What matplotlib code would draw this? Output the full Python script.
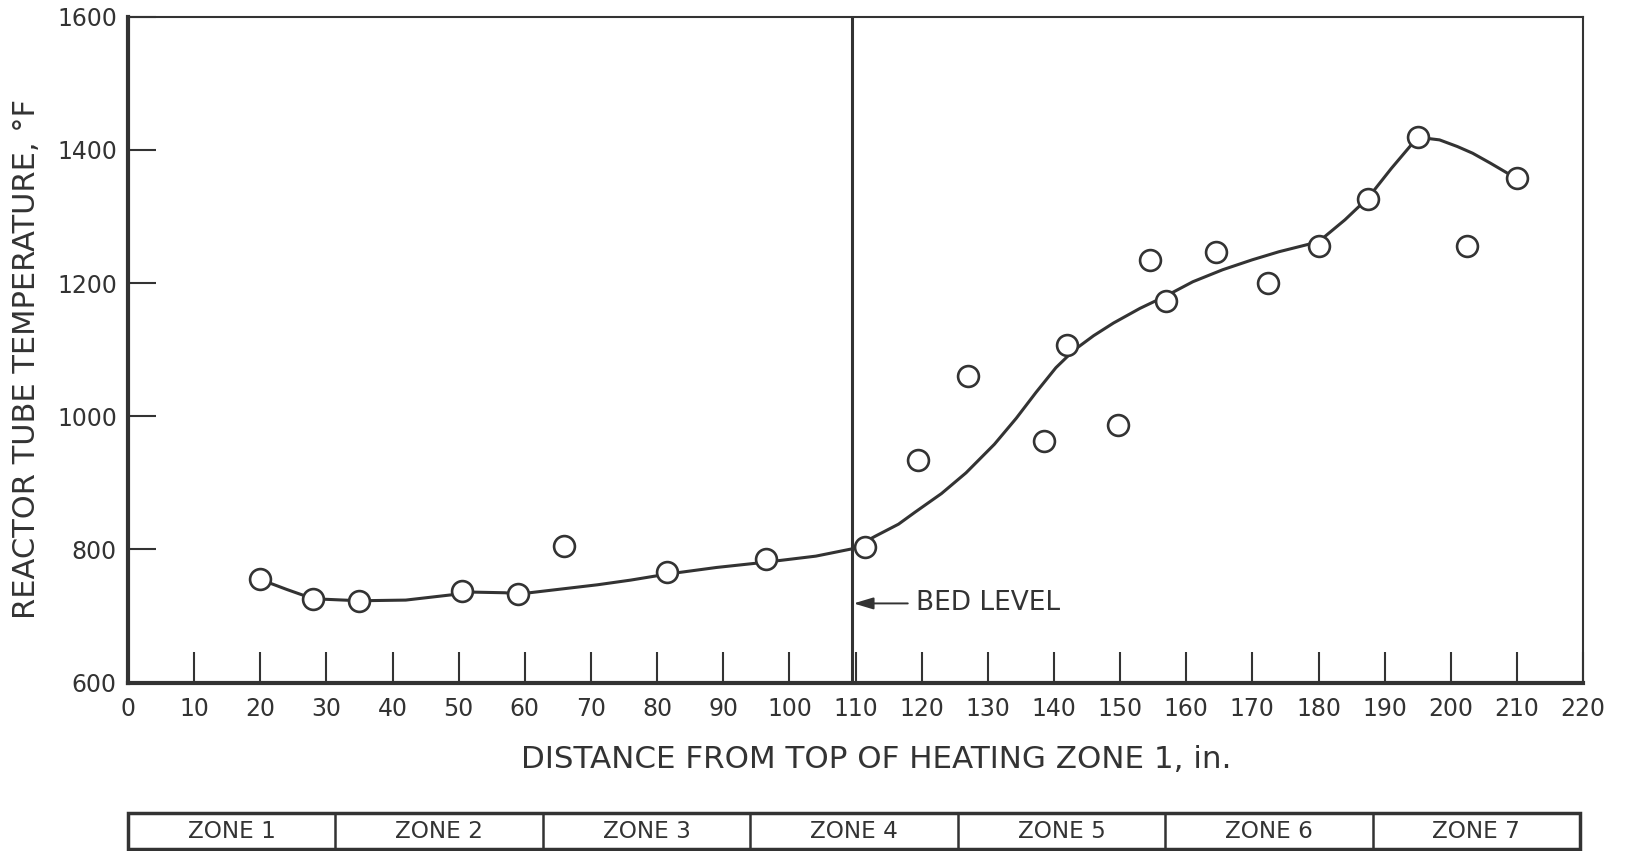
import matplotlib
matplotlib.use("Agg")
import matplotlib.pyplot as plt
from matplotlib.patches import Rectangle

# ---- data ----
dist = [20, 28, 35, 50.5, 59, 66, 81.5, 96.5, 111.5, 119.5, 127, 138.5, 142,
        149.7, 154.5, 157, 164.5, 172.3, 180, 187.5, 195, 202.5, 210]
temp = [755, 725, 723, 738, 733, 805, 766, 785, 804, 935, 1060, 963, 1107,
        987, 1235, 1173, 1247, 1200, 1256, 1326, 1419, 1255, 1358]

curve_x = [20, 24, 28, 35, 42, 49, 52, 57, 59, 65, 71, 76, 81.5, 89, 96.5, 104,
           109.5, 113, 116.5, 119, 123, 126.7, 131, 134.3, 137.3, 140.3, 143,
           146, 149, 153, 157, 161, 165.5, 170, 174, 180, 184, 187.5, 191, 195,
           198.3, 201, 203.3, 206, 208.4, 210]
curve_y = [755, 740, 726, 723, 724, 732, 736, 735, 733, 740, 747, 754, 763, 773,
           781, 790, 801, 820, 838, 856, 884, 915, 958, 997, 1036, 1073, 1099,
           1121, 1140, 1162, 1181, 1202, 1220, 1235, 1247, 1262, 1295, 1328,
           1372, 1419, 1415, 1405, 1395, 1380, 1366, 1356]

bed_level = 109.5
xticks = list(range(0, 221, 10))
yticks = [600, 800, 1000, 1200, 1400, 1600]
zones = ["ZONE 1", "ZONE 2", "ZONE 3", "ZONE 4", "ZONE 5", "ZONE 6", "ZONE 7"]

ink = "#333333"
plt.rcParams['font.family'] = ['DejaVu Sans']

fig = plt.figure(figsize=(16.26, 8.51), dpi=100)
ax = fig.add_axes([0.0787, 0.1978, 0.8949, 0.7826])

ax.plot(curve_x, curve_y, color=ink, lw=2.2, zorder=2)
ax.plot(dist, temp, linestyle='none', marker='o', ms=15, mfc='white',
        mec=ink, mew=1.9, zorder=3)

ax.axvline(bed_level, color=ink, lw=2.2, zorder=1)
ax.annotate('', xy=(bed_level + 0.2, 719), xytext=(117.9, 719),
            arrowprops=dict(arrowstyle='-|>,head_length=1.0,head_width=0.3',
                            mutation_scale=12, color=ink, lw=1.4,
                            shrinkA=0, shrinkB=0))
ax.text(119.2, 719, 'BED LEVEL', va='center', ha='left', fontsize=19,
        color=ink)

ax.set_xlim(0, 220)
ax.set_ylim(600, 1600)
ax.set_xticks(xticks)
ax.set_yticks(yticks)
ax.tick_params(axis='x', direction='in', length=22, width=1.5, colors=ink,
               labelsize=17, pad=10)
ax.tick_params(axis='y', direction='in', length=20, width=1.5, colors=ink,
               labelsize=17, pad=8)
for lab in ax.get_xticklabels() + ax.get_yticklabels():
    lab.set_color(ink)

for s in ['left', 'bottom']:
    ax.spines[s].set_linewidth(3.0)
    ax.spines[s].set_color(ink)
for s in ['top', 'right']:
    ax.spines[s].set_linewidth(1.5)
    ax.spines[s].set_color(ink)

fig.text(0.0166, 0.578, 'REACTOR TUBE TEMPERATURE, °F', rotation=90,
         ha='center', va='center', fontsize=22, color=ink)
fig.text(0.5387, 0.108, 'DISTANCE FROM TOP OF HEATING ZONE 1, in.',
         ha='center', va='center', fontsize=22.3, color=ink)

# zone strip
zax = fig.add_axes([0.0787, 0.002, 0.893, 0.0427])
zax.set_xlim(0, len(zones))
zax.set_ylim(0, 1)
zax.axis('off')
zax.add_patch(Rectangle((0, 0), len(zones), 1, fill=False, ec=ink, lw=2.5,
                        clip_on=False))
for i, z in enumerate(zones):
    if i > 0:
        zax.plot([i, i], [0, 1], color=ink, lw=1.8)
    zax.text(i + 0.5, 0.5, z, ha='center', va='center', fontsize=16.7,
             color=ink)

fig.savefig('out.png', dpi=100)
